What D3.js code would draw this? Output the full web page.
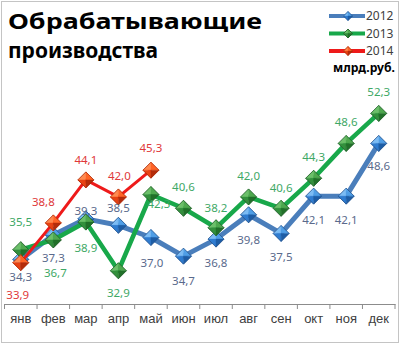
<!DOCTYPE html>
<html>
<head>
<meta charset="utf-8">
<script src="https://cdn.jsdelivr.net/npm/d3@7"></script>
<style>
  html, body { margin: 0; padding: 0; background: #fff; }
  svg { display: block; font-family: "Noto Sans", "Open Sans", sans-serif; }
</style>
</head>
<body>
<svg id="chart" width="400" height="344"></svg>
<script>
// Monthly output, billion rubles
const months = ["янв", "фев", "мар", "апр", "май", "июн", "июл", "авг", "сен", "окт", "ноя", "дек"];
const values2012 = [34.3, 37.3, 39.3, 38.5, 37.0, 34.7, 36.8, 39.8, 37.5, 42.1, 42.1, 48.6];
const values2013 = [35.5, 36.7, 38.9, 32.9, 42.3, 40.6, 38.2, 42.0, 40.6, 44.3, 48.6, 52.3];
const values2014 = [33.9, 38.8, 44.1, 42.0, 45.3];
const seriesNames = ["2012", "2013", "2014"];
const titleLines = ["Обрабатывающие", "производства"];
const unitLabel = "млрд.руб.";

// Label placement per point: [dx, dy] from the marker centre
const labelPos2012 = [[0, 18], [0, 23], [0, -8], [0, -17], [1, 25], [0, 25], [0, 24], [0, 25], [0, 24], [0, 24], [0, 24], [0, 23]];
const labelPos2013 = [[0, -28], [2, 33], [0, 26], [0, 22], [8, 9], [0, -21], [0, -20], [0, -21], [0, -20], [0, -21], [0, -21], [0, -21]];
const labelPos2014 = [[-3, 32], [-10, -21], [0, -20], [1, -21], [0, -22]];

const styles = [
  { line: "#4a7ebb", width: 5, text: "#5a6a8c",
    facets: ["#7cbcf4", "#4f9ee6", "#2f7cd0", "#1d5da6"], stroke: "#23508a" },
  { line: "#18a84a", width: 4.5, text: "#3ea866",
    facets: ["#6cc06a", "#4ea84e", "#33903c", "#217029"], stroke: "#1e5c28" },
  { line: "#ee1a1a", width: 3, text: "#e0383a",
    facets: ["#ff8a50", "#ff6426", "#e84212", "#b42c0a"], stroke: "#a82404" }
];

const svg = d3.select("#chart");

// chart frame
svg.append("rect")
  .attr("x", 1.5).attr("y", 1.5).attr("width", 397).attr("height", 341)
  .attr("fill", "#fff").attr("stroke", "#c4c4c4").attr("stroke-width", 1);

const x = d3.scaleBand().domain(months).range([4.5, 395]);
const y = d3.scaleLinear().domain([28.8, 55]).range([304, 91.5]);
const cx = m => x(m) + x.bandwidth() / 2;

// category axis
const axis = svg.append("g")
  .attr("transform", "translate(0,304)")
  .call(d3.axisBottom(x).tickSize(0).tickPadding(12));
axis.select(".domain").attr("stroke", "#8c8c8c");
axis.selectAll(".tick text")
  .attr("fill", "#404040").attr("font-size", 13).attr("dy", "0.55em");
// tick marks sit on the band boundaries
axis.selectAll("line.boundary")
  .data(d3.range(months.length + 1))
  .join("line").attr("class", "boundary")
  .attr("x1", i => 4.5 + i * x.step()).attr("x2", i => 4.5 + i * x.step())
  .attr("y1", 0).attr("y2", 5)
  .attr("stroke", "#8c8c8c");

// faceted diamond marker
function drawMarker(g, px, py, r, st) {
  const T = [px, py - r], R = [px + r, py], B = [px, py + r], L = [px - r, py], C = [px, py];
  const tris = [[L, T, C], [T, R, C], [L, C, B], [C, R, B]];
  tris.forEach((t, i) => {
    g.append("path")
      .attr("d", "M" + t.map(p => p.join(",")).join("L") + "Z")
      .attr("fill", st.facets[i]).attr("stroke", st.facets[i]).attr("stroke-width", 0.4);
  });
  g.append("path")
    .attr("d", `M${T}L${R}L${B}L${L}Z`)
    .attr("fill", "none").attr("stroke", st.stroke).attr("stroke-width", 0.8);
}

const series = [
  { vals: values2012, pos: labelPos2012 },
  { vals: values2013, pos: labelPos2013 },
  { vals: values2014, pos: labelPos2014 }
];

const line = d3.line().x(d => cx(d.m)).y(d => y(d.v));

series.forEach((s, si) => {
  const st = styles[si];
  const pts = s.vals.map((v, i) => ({ m: months[i], v }));
  const g = svg.append("g");
  g.append("path")
    .datum(pts)
    .attr("d", line)
    .attr("fill", "none")
    .attr("stroke", st.line)
    .attr("stroke-width", st.width)
    .attr("stroke-linejoin", "round");
  pts.forEach(p => drawMarker(g, cx(p.m), y(p.v), 8, st));
});

// data labels drawn last so they stay readable
series.forEach((s, si) => {
  const st = styles[si];
  svg.append("g").selectAll("text")
    .data(s.vals)
    .join("text")
    .attr("x", (v, i) => cx(months[i]) + s.pos[i][0])
    .attr("y", (v, i) => y(v) + s.pos[i][1])
    .attr("dy", "0.35em")
    .attr("text-anchor", "middle")
    .attr("font-size", 11.5)
    .attr("fill", st.text)
    .text(v => d3.format(".1f")(v).replace(".", ","));
});

// title
svg.append("g").selectAll("text")
  .data(titleLines)
  .join("text")
  .attr("x", 8)
  .attr("y", (d, i) => 29 + i * 29)
  .attr("font-size", 21)
  .attr("font-weight", "bold")
  .attr("fill", "#000")
  .attr("textLength", (d, i) => i === 0 ? 254 : 150)
  .attr("lengthAdjust", "spacingAndGlyphs")
  .text(d => d);

// legend
const legend = svg.append("g");
seriesNames.forEach((name, i) => {
  const ly = 16 + i * 17.5;
  const st = styles[i];
  legend.append("line")
    .attr("x1", 329).attr("x2", 365).attr("y1", ly).attr("y2", ly)
    .attr("stroke", st.line).attr("stroke-width", 4);
  drawMarker(legend, 348, ly, 4.5, st);
  legend.append("text")
    .attr("x", 366).attr("y", ly + 4)
    .attr("font-size", 12).attr("fill", "#404040")
    .text(name);
});
legend.append("text")
  .attr("x", 333).attr("y", 72)
  .attr("font-size", 12.5).attr("font-weight", "bold").attr("fill", "#000")
  .attr("textLength", 62).attr("lengthAdjust", "spacingAndGlyphs")
  .text(unitLabel);
</script>
</body>
</html>
